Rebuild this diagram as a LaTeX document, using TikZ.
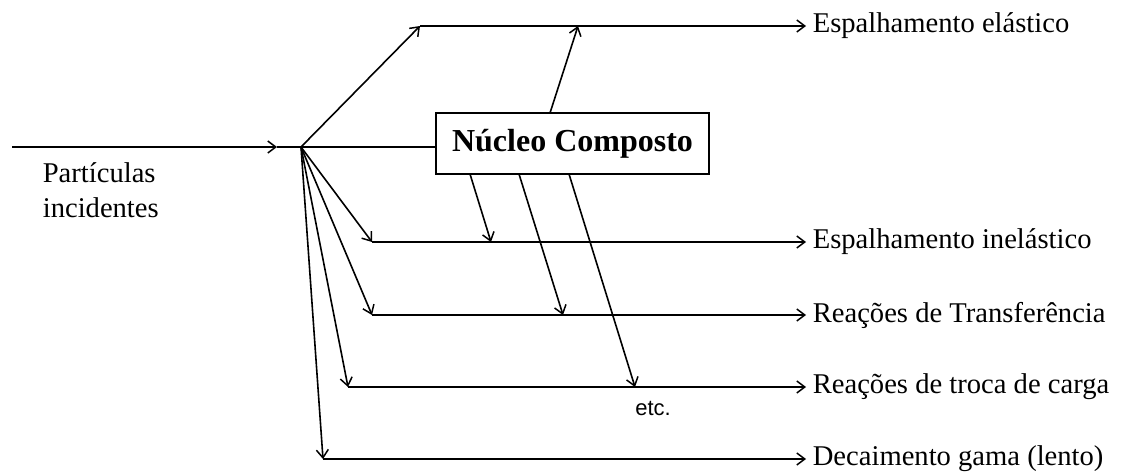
\documentclass[tikz,border=0pt]{standalone}
\usepackage{fontspec}
\setmainfont{Liberation Serif}
\newfontfamily\etcfont{Liberation Sans}
\usetikzlibrary{arrows.meta}
\begin{document}
\begin{tikzpicture}[x=1pt,y=-1pt,line width=1.6pt,
  flow/.style={-{Straight Barb[length=8pt,width=12pt,line width=1.5pt]}},
  outlabel/.style={anchor=west,inner sep=0pt,font=\fontsize{28.6}{31}\selectfont},
  boxnode/.style={draw,line width=1.7pt,minimum width=273pt,minimum height=61pt,inner sep=0pt,
    font=\bfseries\fontsize{32}{34}\selectfont}]
\useasboundingbox (0,0) rectangle (1123,474);

% incoming beam and branching point
\coordinate (src) at (12,147);
\coordinate (beamtip) at (277,147);
\coordinate (hub) at (301,147);
\draw[flow] (src) -- (beamtip);
\draw (beamtip) -- (hub);
\node[anchor=west,align=left,inner sep=0pt,font=\fontsize{28.6}{35}\selectfont] (inc) at (42,190) {Partículas\\incidentes};

% compound nucleus
\node[boxnode] (cn) at (572.5,143.5) {Núcleo Composto};
\draw (hub) -- (hub -| cn.west);

% outgoing channels
\node[outlabel] (l1) at (812,26) {Espalhamento elástico};
\node[outlabel] (l2) at (812,242) {Espalhamento inelástico};
\node[outlabel] (l3) at (812,315) {Reações de Transferência};
\node[outlabel] (l4) at (812,387) {Reações de troca de carga};
\node[outlabel] (l5) at (812,459) {Decaimento gama (lento)};

\coordinate (d1) at (420,26);
\coordinate (d2) at (372,242);
\coordinate (d3) at (372,315);
\coordinate (d4) at (348,387);
\coordinate (d5) at (323,459);
\foreach \i in {1,...,5}{
  \draw[flow] (hub) -- (d\i);
  \draw[flow,shorten >=6pt] (d\i) -- (d\i -| l\i.west);
}

% decays of the compound nucleus
\coordinate (c0) at (550,113);
\coordinate (c0e) at (578,26);
\coordinate (c1) at (470,174);
\coordinate (c1e) at (491,242);
\coordinate (c2) at (519,174);
\coordinate (c2e) at (563,315);
\coordinate (c3) at (569,174);
\coordinate (c3e) at (635,387);
\draw[flow] (c0) -- (c0e);
\draw[flow] (c1) -- (c1e);
\draw[flow] (c2) -- (c2e);
\draw[flow] (c3) -- (c3e);
\node[font=\etcfont\fontsize{22}{24}\selectfont,inner sep=0pt] (etc) at (653,408) {etc.};
\end{tikzpicture}
\end{document}
